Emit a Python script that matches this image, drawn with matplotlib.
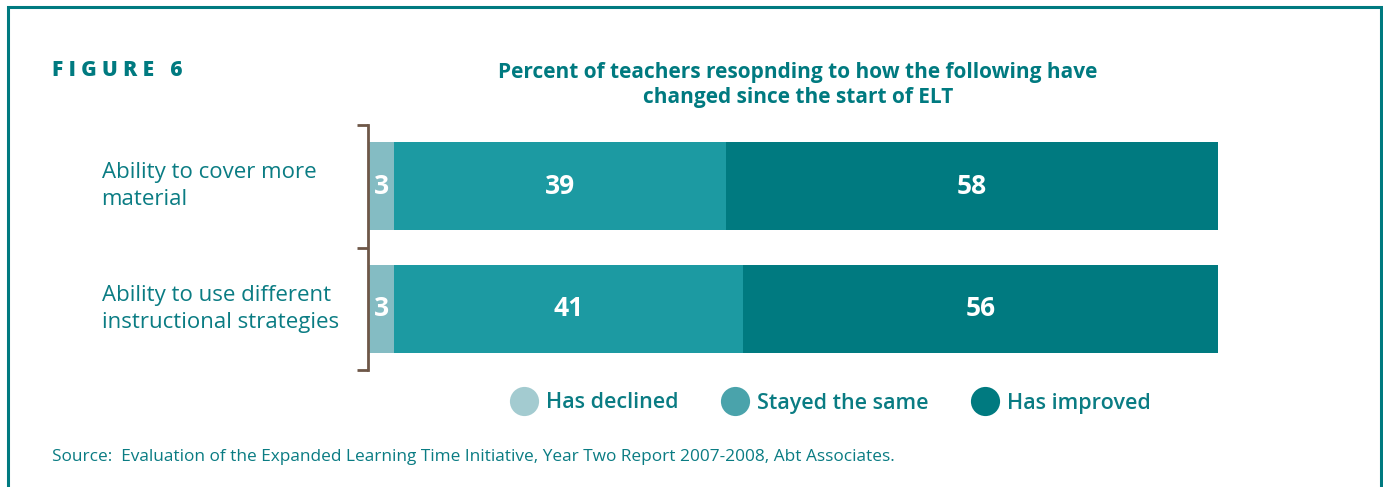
import matplotlib
matplotlib.use('Agg')
import matplotlib.pyplot as plt
from matplotlib.lines import Line2D
from matplotlib.patches import Rectangle

plt.rcParams['font.family'] = ['Open Sans', 'DejaVu Sans']

# data
categories = ['Ability to cover more\nmaterial',
              'Ability to use different\ninstructional strategies']
series = ['Has declined', 'Stayed the same', 'Has improved']
declined = [3, 3]
stayed = [39, 41]
improved = [58, 56]

bar_colors = ['#84bcc3', '#1c9aa2', '#007a80']
legend_colors = ['#a3cbd0', '#4aa3ab', '#007a80']
teal = '#0a7c83'
brown = '#6e5748'

W, H = 1383, 487
fig = plt.figure(figsize=(W / 100, H / 100), dpi=100)

# frame around the figure
fig.patches.append(Rectangle((8 / W, -0.05), (1381 - 8) / W, 1.05 - 7 / H,
                             transform=fig.transFigure, fill=False,
                             edgecolor='#007a80', linewidth=2.2))

ax = fig.add_axes([369 / W, 1 - 370 / H, 849 / W, 245 / H])
y = range(len(categories))
left = [0] * len(categories)
for vals, col in zip([declined, stayed, improved], bar_colors):
    ax.barh(y, vals, left=left, height=0.715, color=col, edgecolor='none')
    for i, v in enumerate(vals):
        ax.text(left[i] + v / 2, i, str(v), ha='center', va='center',
                color='white', fontsize=19, fontweight='bold')
    left = [l + v for l, v in zip(left, vals)]

ax.set_xlim(0, 100)
ax.set_ylim(1.5, -0.5)
for s in ['top', 'right', 'bottom']:
    ax.spines[s].set_visible(False)
ax.spines['left'].set_color(brown)
ax.spines['left'].set_linewidth(2)
ax.spines['left'].set_position(('outward', 1))
ax.set_xticks([])
ax.set_yticks([-0.5, 0.5, 1.5])
ax.tick_params(axis='y', direction='out', length=8, width=2, color=brown,
               labelleft=False)

for i, c in enumerate(categories):
    ax.text(-0.315, i, c, transform=ax.get_yaxis_transform(), ha='left',
            va='center', fontsize=16, color=teal, linespacing=1.4)

fig.text(52 / W, 1 - 70 / H, 'F I G U R E   6', ha='left', va='center',
         fontsize=15, fontweight='heavy', color='#007a80')
fig.text(798 / W, 1 - 85 / H,
         'Percent of teachers resopnding to how the following have\n'
         'changed since the start of ELT',
         ha='center', va='center', fontsize=15, fontweight='bold',
         color='#007a80', linespacing=1.3)

handles = [Line2D([], [], marker='o', linestyle='none', markersize=21,
                  markerfacecolor=c, markeredgecolor='none')
           for c in legend_colors]
leg = fig.legend(handles, series, loc='center',
                 bbox_to_anchor=(831 / W, 1 - 403 / H), ncol=3,
                 frameon=False, fontsize=15.5, handletextpad=0.45,
                 columnspacing=2.0, handlelength=1.2)
for t in leg.get_texts():
    t.set_color(teal)
    t.set_fontweight('semibold')

fig.text(52 / W, 1 - 457 / H,
         'Source:  Evaluation of the Expanded Learning Time Initiative, '
         'Year Two Report 2007-2008, Abt Associates.',
         ha='left', va='center', fontsize=12.4, color=teal)

fig.savefig('out.png', dpi=100, facecolor='white')
